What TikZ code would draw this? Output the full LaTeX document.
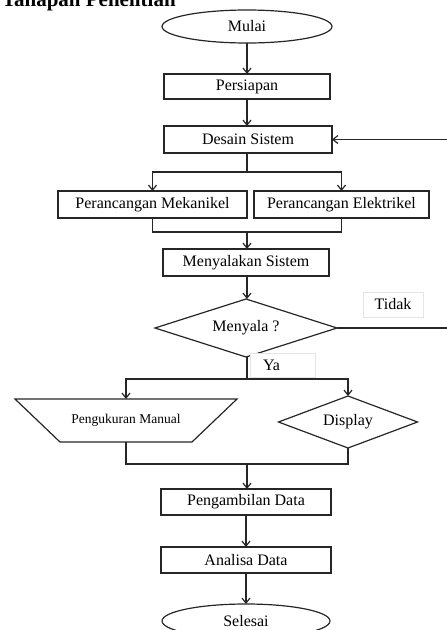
\documentclass[tikz,border=0pt]{standalone}
\usepackage{fontspec}
\setmainfont{Liberation Serif}
\usetikzlibrary{shapes.geometric,arrows.meta,calc}
\begin{document}
\begin{tikzpicture}[x=1pt,y=-1pt,
  every node/.style={inner sep=0pt, outer sep=0pt, font=\fontsize{16}{18}\selectfont, text=black},
  ln/.style={draw=black!85, line width=1.2pt},
  arr/.style={ln, -{Straight Barb[length=5pt,width=8pt]}},
  procbox/.style={draw=black!85, line width=1.2pt, rectangle},
  term/.style={draw=black!85, line width=1.2pt, ellipse},
  dec/.style={draw=black!85, line width=1.2pt, diamond, aspect=3},
  lbl/.style={draw=black!10, line width=0.6pt, fill=white}
]
\useasboundingbox (0,0) rectangle (447,630);
\clip (0,0) rectangle (447,630);

% heading (cut off at top)
\node[anchor=base west, font=\fontsize{21}{21}\bfseries\selectfont] (head) at (2,6) {Tahapan Penelitian};

% main nodes
\node[term, minimum width=170pt, minimum height=33pt] (mulai) at (247,26.5) {Mulai};
\node[procbox, minimum width=166pt, minimum height=25pt] (persiapan) at (247,86.5) {Persiapan};
\node[procbox, minimum width=168pt, minimum height=27pt] (desain) at (248,139.5) {Desain Sistem};
\node[procbox, minimum width=189pt, minimum height=27pt] (mek) at (152.5,204.5) {Perancangan Mekanikel};
\node[procbox, minimum width=175pt, minimum height=27pt] (elek) at (341.5,204.5) {Perancangan Elektrikel};
\node[procbox, minimum width=166pt, minimum height=27pt] (nyalakan) at (246,262.5) {Menyalakan Sistem};
\node[dec, minimum width=182pt, minimum height=58pt] (menyala) at (246,328) {Menyala ?};
\node[minimum width=222pt, minimum height=43pt, font=\fontsize{13.5}{15}\selectfont] (manual) at (126,420.5) {Pengukuran Manual};
\draw[ln] (manual.north west) -- (manual.north east) -- ([xshift=-45pt]manual.south east) -- ([xshift=45pt]manual.south west) -- cycle;
\node[dec, minimum width=139pt, minimum height=52pt] (display) at (348,422) {Display};
\node[procbox, minimum width=170pt, minimum height=26pt] (ambil) at (246,502) {Pengambilan Data};
\node[procbox, minimum width=170pt, minimum height=26pt] (analisa) at (246,560) {Analisa Data};
\node[term, minimum width=168pt, minimum height=34pt] (selesai) at (246,621) {Selesai};

% labels
\node[lbl, minimum width=60pt, minimum height=25pt] (tidak) at (393,304.5) {Tidak};
\node[lbl, anchor=west, text width=39pt, inner xsep=13pt, minimum height=24pt, align=left] (ya) at (250,365) {Ya};

% junction coordinates
\coordinate (b1) at (247,172);
\coordinate (j1) at (247,232);
\coordinate (b2) at (247,379);
\coordinate (j2) at (247,464);
\coordinate (loop) at (448.6,328);

% connectors
\draw[arr] (mulai.south) -- (persiapan.north);
\draw[arr] (persiapan.south) -- (persiapan.south |- desain.north);
\draw[ln] (desain.south -| b1) -- (b1);
\draw[arr] (b1) -| (mek.north);
\draw[arr] (b1) -| (elek.north);
\draw[ln] (mek.south) |- (j1) -| (elek.south);
\draw[arr] (j1) -- (j1 |- nyalakan.north);
\draw[arr] (nyalakan.south -| j1) -- (j1 |- menyala.north);
\draw[ln] (j1 |- menyala.south) -- (b2);
\draw[arr] (b2) -| (manual.north);
\draw[arr] (b2) -| (display.north);
\draw[ln] (manual.south) |- (j2) -| (display.south);
\draw[arr] (j2) -- (j2 |- ambil.north);
\draw[arr] (ambil.south) -- (analisa.north);
\draw[arr] (analisa.south) -- (selesai.north);
\draw[arr] (menyala.east) -- (loop) |- (desain.east);
\end{tikzpicture}
\end{document}
